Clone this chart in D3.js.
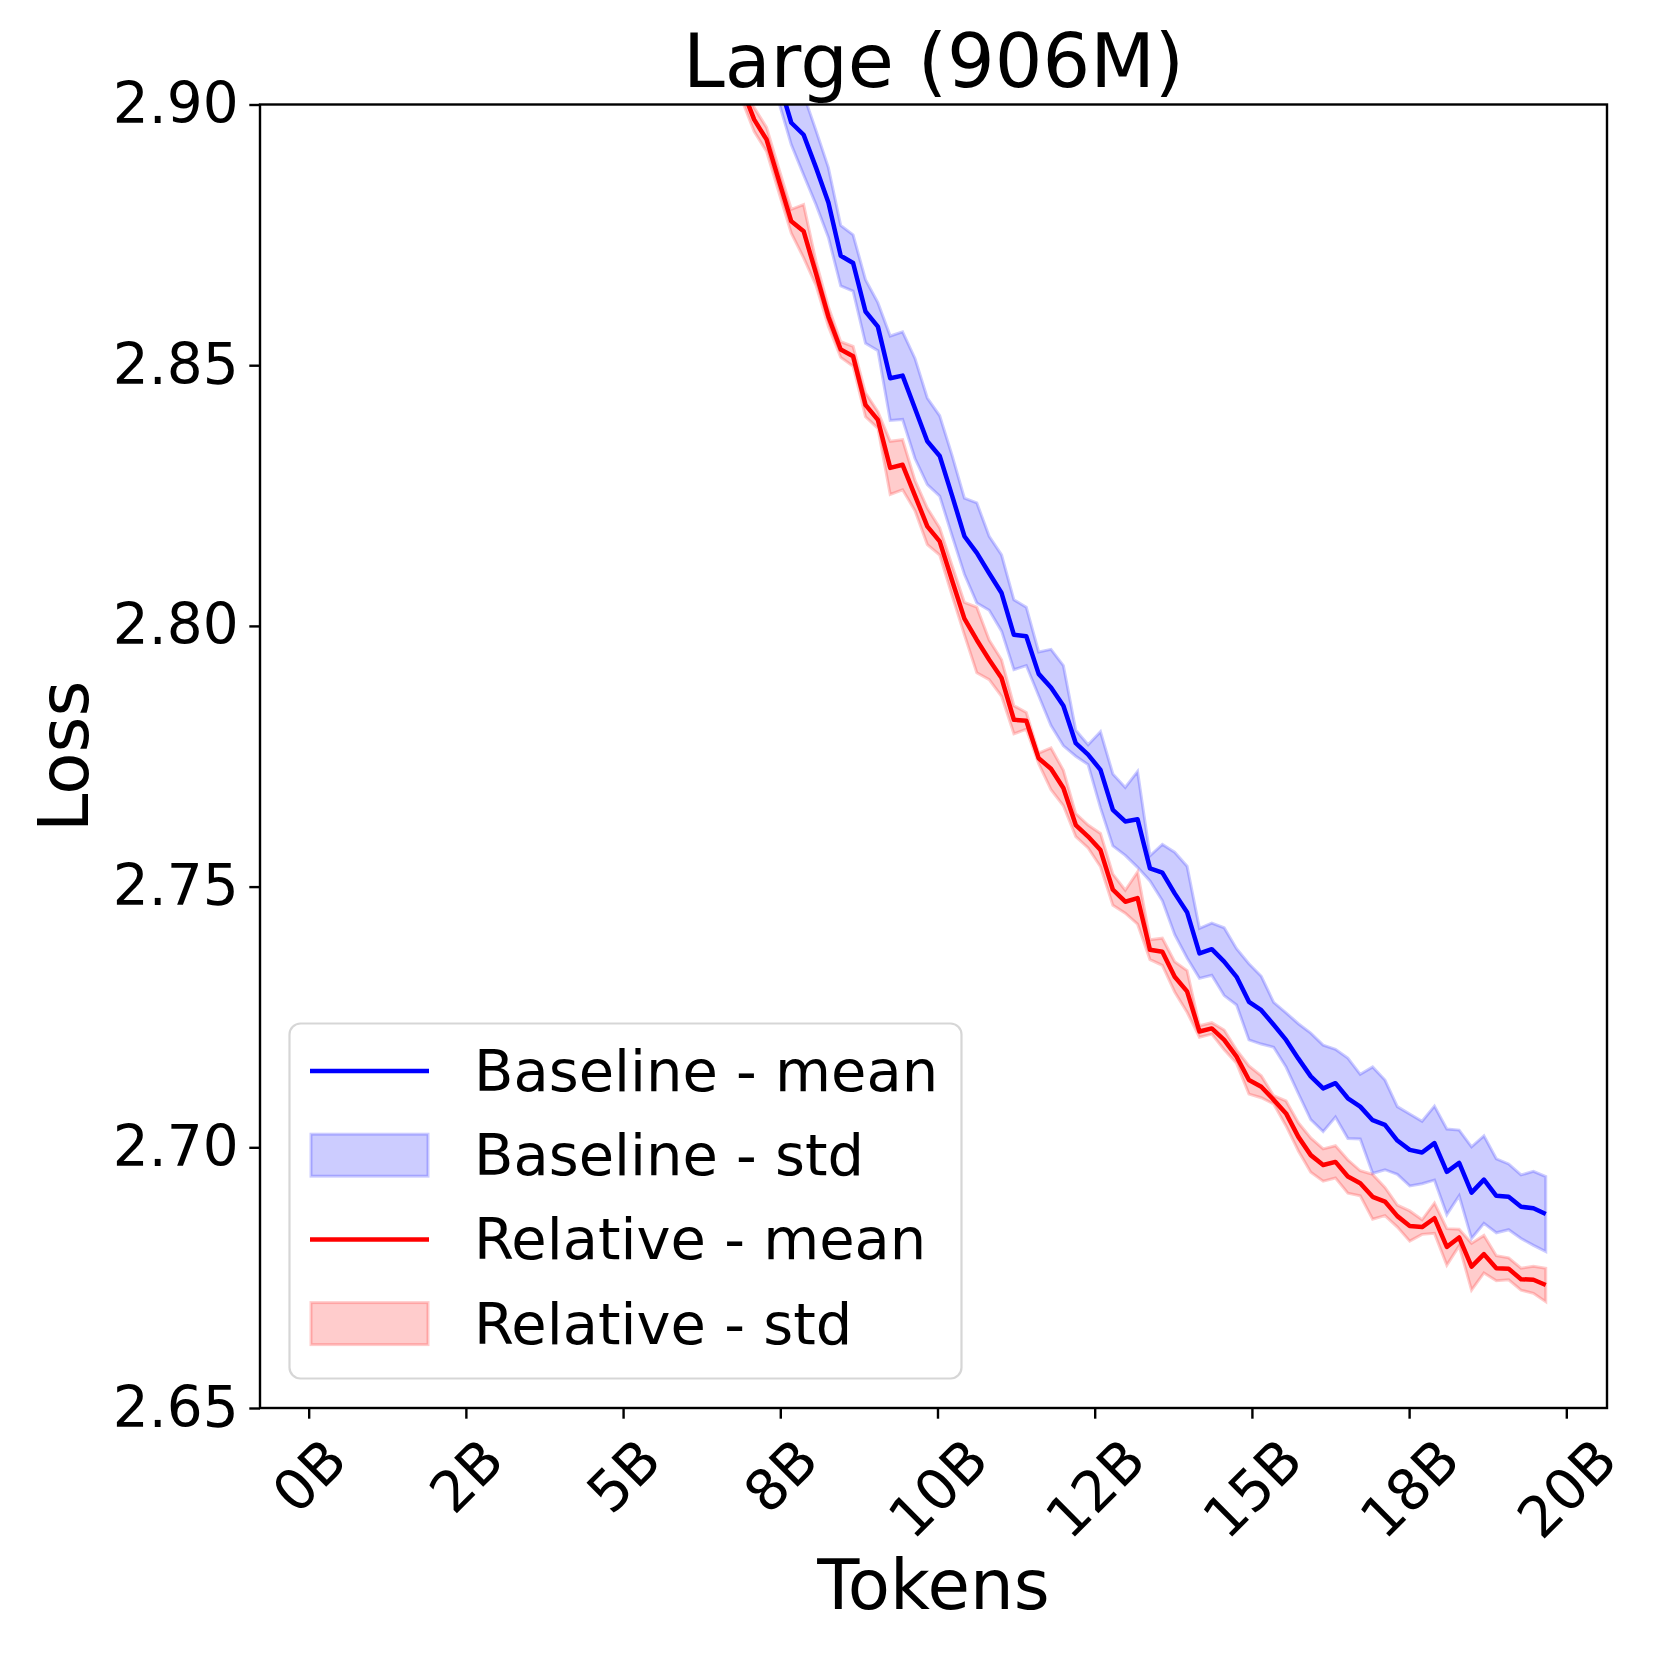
<!DOCTYPE html>
<html>
<head>
<meta charset="utf-8">
<script src="https://cdn.jsdelivr.net/npm/d3@7"></script>
<style>
    body { margin: 0; background: #ffffff; }
    svg text { font-family: "DejaVu Sans", sans-serif; fill: #000000; }
</style>
</head>
<body>
<div id="chart"></div>
<script>

// tokens seen (billions), only the stretch that shows below the 2.90 limit
const tokens = [
    6.691, 6.888, 7.085, 7.281, 7.478, 7.675, 7.871, 8.068, 8.265, 8.461,
    8.658, 8.855, 9.052, 9.248, 9.445, 9.642, 9.838, 10.035, 10.232, 10.428,
    10.625, 10.822, 11.019, 11.215, 11.412, 11.609, 11.805, 12.002, 12.199, 12.395,
    12.592, 12.789, 12.986, 13.182, 13.379, 13.576, 13.772, 13.969, 14.166, 14.362,
    14.559, 14.756, 14.953, 15.149, 15.346, 15.543, 15.739, 15.936, 16.133, 16.329,
    16.526, 16.723, 16.920, 17.116, 17.313, 17.510, 17.706, 17.903, 18.100, 18.296,
    18.493, 18.690, 18.887, 19.083, 19.280, 19.477, 19.673
];

const baselineMean = [
    2.9278, 2.9221, 2.9182, 2.9123, 2.9044, 2.8965, 2.8942, 2.8879, 2.8812, 2.8710,
    2.8696, 2.8603, 2.8574, 2.8475, 2.8480, 2.8417, 2.8354, 2.8326, 2.8250, 2.8172,
    2.8140, 2.8101, 2.8063, 2.7983, 2.7980, 2.7908, 2.7882, 2.7847, 2.7775, 2.7753,
    2.7724, 2.7647, 2.7625, 2.7629, 2.7535, 2.7527, 2.7487, 2.7451, 2.7372, 2.7380,
    2.7356, 2.7327, 2.7279, 2.7263, 2.7235, 2.7206, 2.7170, 2.7136, 2.7113, 2.7123,
    2.7094, 2.7078, 2.7052, 2.7043, 2.7013, 2.6995, 2.6990, 2.7008, 2.6953, 2.6970,
    2.6913, 2.6938, 2.6907, 2.6905, 2.6886, 2.6883, 2.6872
];

const baselineStd = [
    0.0040, 0.0040, 0.0038, 0.0038, 0.0040, 0.0042, 0.0077, 0.0071, 0.0067, 0.0058,
    0.0054, 0.0061, 0.0046, 0.0081, 0.0084, 0.0096, 0.0083, 0.0077, 0.0077, 0.0073,
    0.0096, 0.0071, 0.0073, 0.0067, 0.0056, 0.0042, 0.0073, 0.0077, 0.0025, 0.0019,
    0.0073, 0.0069, 0.0065, 0.0092, 0.0024, 0.0054, 0.0079, 0.0088, 0.0048, 0.0050,
    0.0065, 0.0054, 0.0073, 0.0065, 0.0043, 0.0052, 0.0067, 0.0083, 0.0083, 0.0065,
    0.0077, 0.0062, 0.0102, 0.0086, 0.0065, 0.0069, 0.0060, 0.0071, 0.0082, 0.0063,
    0.0088, 0.0084, 0.0071, 0.0063, 0.0061, 0.0071, 0.0072
];

const relativeMean = [
    2.9086, 2.9032, 2.8971, 2.8933, 2.8854, 2.8776, 2.8757, 2.8676, 2.8593, 2.8530,
    2.8517, 2.8424, 2.8395, 2.8303, 2.8309, 2.8250, 2.8191, 2.8162, 2.8087, 2.8014,
    2.7973, 2.7935, 2.7900, 2.7820, 2.7818, 2.7746, 2.7726, 2.7689, 2.7618, 2.7596,
    2.7570, 2.7494, 2.7471, 2.7478, 2.7379, 2.7375, 2.7327, 2.7299, 2.7222, 2.7228,
    2.7206, 2.7174, 2.7129, 2.7116, 2.7091, 2.7065, 2.7020, 2.6985, 2.6966, 2.6972,
    2.6944, 2.6931, 2.6905, 2.6896, 2.6868, 2.6849, 2.6847, 2.6864, 2.6809, 2.6827,
    2.6771, 2.6795, 2.6768, 2.6767, 2.6747, 2.6746, 2.6736
];

const relativeStd = [
    0.0023, 0.0023, 0.0023, 0.0023, 0.0023, 0.0023, 0.0051, 0.0023, 0.0019, 0.0015,
    0.0019, 0.0023, 0.0016, 0.0051, 0.0048, 0.0029, 0.0035, 0.0026, 0.0029, 0.0031,
    0.0063, 0.0038, 0.0035, 0.0027, 0.0016, 0.0010, 0.0040, 0.0034, 0.0022, 0.0022,
    0.0032, 0.0030, 0.0022, 0.0050, 0.0019, 0.0026, 0.0029, 0.0040, 0.0011, 0.0011,
    0.0019, 0.0013, 0.0027, 0.0021, 0.0008, 0.0024, 0.0027, 0.0033, 0.0031, 0.0031,
    0.0032, 0.0024, 0.0043, 0.0027, 0.0021, 0.0029, 0.0014, 0.0029, 0.0035, 0.0016,
    0.0045, 0.0036, 0.0024, 0.0021, 0.0021, 0.0026, 0.0032
];

const xTickValues = [0, 2.5, 5, 7.5, 10, 12.5, 15, 17.5, 20];
const xTickLabels = ["0B", "2B", "5B", "8B", "10B", "12B", "15B", "18B", "20B"];
const yTickValues = [2.65, 2.70, 2.75, 2.80, 2.85, 2.90];
const legendLabels = ["Baseline - mean", "Baseline - std", "Relative - mean", "Relative - std"];


class LossVis {

    constructor(parentElement, title) {
        this.parentElement = parentElement;
        this.title = title;

        this.series = [
            {name: "Baseline", color: "blue", mean: baselineMean, std: baselineStd},
            {name: "Relative", color: "red", mean: relativeMean, std: relativeStd}
        ];

        this.initVis();
    }

    initVis() {
        let vis = this;

        vis.margin = {top: 104.5, right: 54, bottom: 253, left: 260};
        vis.width = 1661 - vis.margin.left - vis.margin.right;
        vis.height = 1661 - vis.margin.top - vis.margin.bottom;

        vis.fs = {tick: 56.5, label: 69, title: 75, legend: 57.5};
        vis.tickLen = 10.7;
        vis.tickPad = 10.7;

        vis.svgRoot = d3.select("#" + vis.parentElement).append("svg")
            .attr("width", 1661)
            .attr("height", 1661);

        vis.svgRoot.append("rect")
            .attr("width", 1661)
            .attr("height", 1661)
            .attr("fill", "#ffffff");

        vis.svg = vis.svgRoot.append("g")
            .attr("transform", `translate(${vis.margin.left}, ${vis.margin.top})`);

        // matplotlib-style 5% margin around the full token range
        vis.x = d3.scaleLinear()
            .domain([-0.774, 20.647])
            .range([0, vis.width]);

        vis.y = d3.scaleLinear()
            .domain([2.65, 2.90])
            .range([vis.height, 0]);

        vis.svg.append("clipPath")
            .attr("id", "plot-clip")
            .append("rect")
            .attr("width", vis.width)
            .attr("height", vis.height);

        vis.plot = vis.svg.append("g")
            .attr("clip-path", "url(#plot-clip)");

        // title and labels
        vis.svg.append("text")
            .attr("class", "title")
            .attr("x", vis.width / 2)
            .attr("y", 87 - vis.margin.top)
            .attr("text-anchor", "middle")
            .style("font-size", vis.fs.title + "px")
            .text(vis.title);

        vis.svg.append("text")
            .attr("x", vis.width / 2)
            .attr("y", 1609 - vis.margin.top)
            .attr("text-anchor", "middle")
            .style("font-size", vis.fs.label + "px")
            .text("Tokens");

        vis.svg.append("text")
            .attr("transform", `translate(${88 - vis.margin.left}, ${vis.height / 2}) rotate(-90)`)
            .attr("text-anchor", "middle")
            .style("font-size", vis.fs.label + "px")
            .text("Loss");

        vis.xAxis = d3.axisBottom(vis.x)
            .tickValues(xTickValues)
            .tickFormat((d, i) => xTickLabels[i])
            .tickSize(vis.tickLen)
            .tickPadding(vis.tickPad);

        vis.yAxis = d3.axisLeft(vis.y)
            .tickValues(yTickValues)
            .tickFormat(d3.format(".2f"))
            .tickSize(vis.tickLen)
            .tickPadding(vis.tickPad);

        vis.svg.append("g")
            .attr("class", "x-axis axis")
            .attr("transform", "translate(0," + vis.height + ")");

        vis.svg.append("g")
            .attr("class", "y-axis axis");

        this.updateVis();
    }

    updateVis() {
        let vis = this;

        let line = d3.line()
            .x((d, i) => vis.x(tokens[i]))
            .y(d => vis.y(d));

        // draw order follows the legend: mean line, then its std band
        vis.series.forEach(s => {
            let band = d3.area()
                .x((d, i) => vis.x(tokens[i]))
                .y0((d, i) => vis.y(d - s.std[i]))
                .y1((d, i) => vis.y(d + s.std[i]));

            vis.plot.append("path")
                .datum(s.mean)
                .attr("d", line)
                .attr("fill", "none")
                .attr("stroke", s.color)
                .attr("stroke-width", 4.5)
                .attr("stroke-linejoin", "round");

            vis.plot.append("path")
                .datum(s.mean)
                .attr("d", band)
                .attr("fill", s.color)
                .attr("fill-opacity", 0.2)
                .attr("stroke", s.color)
                .attr("stroke-opacity", 0.2)
                .attr("stroke-width", 3);
        });

        // axes
        let xg = vis.svg.select(".x-axis").call(vis.xAxis);
        let yg = vis.svg.select(".y-axis").call(vis.yAxis);

        [xg, yg].forEach(g => {
            g.select(".domain").remove();
            g.selectAll(".tick line").attr("stroke", "#000").attr("stroke-width", 2.4);
            g.selectAll(".tick text")
                .style("font-size", vis.fs.tick + "px")
                .style("font-family", "DejaVu Sans, sans-serif");
        });

        // rotated tick labels, box top sits under the tick like matplotlib va=top
        let top0 = vis.tickLen + vis.tickPad;
        xg.selectAll(".tick text").each(function () {
            let t = d3.select(this);
            let w = this.getComputedTextLength();
            let cy = top0 + (w + vis.fs.tick) * Math.SQRT1_2 / 2;
            t.attr("x", 0)
                .attr("y", cy)
                .attr("dy", "0.35em")
                .attr("text-anchor", "middle")
                .attr("transform", `rotate(-45, 0, ${cy})`);
        });

        // spines
        vis.svg.append("rect")
            .attr("width", vis.width)
            .attr("height", vis.height)
            .attr("fill", "none")
            .attr("stroke", "#000")
            .attr("stroke-width", 2.4);

        vis.drawLegend();
    }

    drawLegend() {
        let vis = this;

        let lg = vis.svgRoot.append("g").attr("class", "legend");

        lg.append("rect")
            .attr("x", 289.5)
            .attr("y", 1023.5)
            .attr("width", 672)
            .attr("height", 355)
            .attr("rx", 11)
            .attr("fill", "#ffffff")
            .attr("fill-opacity", 0.8)
            .attr("stroke", "#cccccc")
            .attr("stroke-opacity", 0.8)
            .attr("stroke-width", 2.2);

        legendLabels.forEach((label, i) => {
            let s = vis.series[Math.floor(i / 2)];
            let base = 1091 + i * 84.2;
            let row = lg.append("g");

            if (i % 2 === 0) {
                row.append("line")
                    .attr("x1", 310).attr("x2", 429)
                    .attr("y1", base - 20).attr("y2", base - 20)
                    .attr("stroke", s.color)
                    .attr("stroke-width", 4.5);
            } else {
                row.append("rect")
                    .attr("x", 311).attr("y", base - 41)
                    .attr("width", 117).attr("height", 42)
                    .attr("fill", s.color)
                    .attr("fill-opacity", 0.2)
                    .attr("stroke", s.color)
                    .attr("stroke-opacity", 0.2)
                    .attr("stroke-width", 3);
            }

            row.append("text")
                .attr("x", 474)
                .attr("y", base)
                .style("font-size", vis.fs.legend + "px")
                .text(label);
        });
    }
}

new LossVis("chart", "Large (906M)");

</script>
</body>
</html>
